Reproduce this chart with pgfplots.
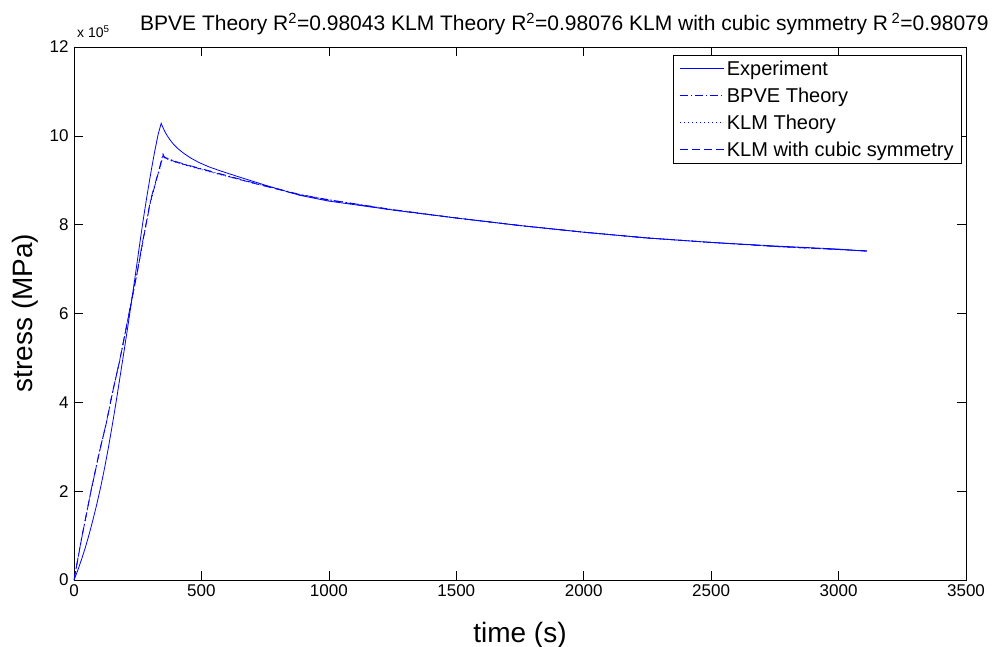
\documentclass[border=0pt]{standalone}
\usepackage{pgfplots}
\pgfplotsset{compat=1.18}
\usepackage{pgfplotstable}
\usepackage{fontspec}
\setmainfont{Liberation Sans}
\definecolor{mblue}{RGB}{0,0,255}

\pgfplotstableread{
t s
0 0
15 22000
30 47000
45 74000
60 104000
75 137000
90 172000
105 210000
120 252000
135 298000
150 348000
165 400000
180 455000
195 510000
210 566000
225 624000
240 684000
255 745000
270 805000
285 860000
300 912000
315 960000
330 1003000
342 1028000
348 1020000
356 1010000
366 1000000
378 990000
392 980000
410 970000
432 960000
458 950000
490 940000
530 930000
580 920000
650 907000
750 889000
886 866000
1000 853000
1250 833000
1500 815000
1750 798000
2000 783000
2250 770000
2500 760000
2750 752000
3000 745000
3111 740000
}\experiment

\pgfplotstableread{
t s
0 0
30 95000
67 202000
100 290000
126 352000
150 420000
179 494000
218 607000
250 700000
270 764000
300 855000
336 929000
349 959000
355 952000
400 942000
454 933000
558 917000
700 895000
886 868000
1000 856000
1250 834000
1500 815000
1750 798000
2000 783000
2250 770000
2500 760000
2750 751000
3000 744000
3111 741000
}\bpve

\pgfplotstableread{
t s
0 0
30 93000
67 200000
100 288000
126 350000
150 418000
179 492000
218 604000
250 697000
270 760000
300 850000
336 925000
350 956000
355 950000
400 940000
454 931000
558 915000
700 894000
886 868000
1000 856000
1250 834000
1500 815000
1750 798000
2000 783000
2250 770000
2500 760000
2750 751000
3000 744000
3111 741000
}\klm

\pgfplotstableread{
t s
0 0
30 94000
67 201000
100 289000
126 351000
150 419000
179 493000
218 605000
250 698000
270 762000
300 852000
336 927000
350 957000
355 951000
400 941000
454 932000
558 916000
700 894000
886 867000
1000 855000
1250 833000
1500 815000
1750 798000
2000 783000
2250 770000
2500 760000
2750 751000
3000 744000
3111 741000
}\klmc

\begin{document}
\begin{tikzpicture}
\path[use as bounding box] (-74pt,-67pt) rectangle (919pt,580pt);
\begin{axis}[
  at={(0pt,0pt)}, anchor=south west,
  scale only axis,
  width=892pt, height=533pt,
  xmin=0, xmax=3500, ymin=0, ymax=1200000,
  xtick={0,500,...,3500},
  ytick={0,200000,400000,600000,800000,1000000,1200000},
  yticklabels={0,2,4,6,8,10,12},
  scaled y ticks=false,
  scaled x ticks=false,
  /pgf/number format/assume math mode=true,
  /pgf/number format/1000 sep={},
  tick align=inside,
  major tick length=9pt,
  tick style={black, line width=0.6pt},
  axis line style={black, line width=0.8pt},
  ticklabel style={font=\fontsize{17}{20}\selectfont},
  xticklabel style={yshift=-1pt},
  yticklabel style={xshift=-2pt},
  legend style={at={(888/892,525/533)}, anchor=north east,
    font=\fontsize{20}{23}\selectfont, line width=0.8pt,
    inner xsep=6pt, inner ysep=3.5pt, row sep=7pt,
    cells={anchor=west}},
  legend image code/.code={\draw[#1] (0pt,0pt) -- (44pt,0pt);},
  legend image post style={draw=mblue, line width=1.2pt},
  every axis plot/.append style={line width=0.8pt},
]
\addplot[mblue, solid] table[x=t,y=s] {\experiment};
\addlegendentry{Experiment}
\addplot[mblue, dash pattern=on 8pt off 3pt on 1pt off 3pt] table[x=t,y=s] {\bpve};
\addlegendentry{BPVE Theory}
\addplot[mblue, dash pattern=on 1pt off 3pt] table[x=t,y=s] {\klm};
\addlegendentry{KLM Theory}
\addplot[mblue, dash pattern=on 8pt off 4pt] table[x=t,y=s] {\klmc};
\addlegendentry{KLM with cubic symmetry}
\end{axis}
\node[anchor=base west, font=\fontsize{14}{16}\selectfont, inner sep=0pt] at (3pt,542pt) {x 10\textsuperscript{5}};
\node[anchor=base west, font=\fontsize{21}{24}\selectfont, inner sep=0pt] at (66pt,549pt) {BPVE Theory R\textsuperscript{2}=0.98043 KLM Theory R\textsuperscript{2}=0.98076 KLM with cubic symmetry R\,\textsuperscript{2}=0.98079};
\node[rotate=90, font=\fontsize{28}{32}\selectfont] at (-49pt,267pt) {stress (MPa)};
\node[anchor=base, font=\fontsize{28}{32}\selectfont, inner sep=0pt] at (446pt,-63pt) {time (s)};
\end{tikzpicture}
\end{document}
